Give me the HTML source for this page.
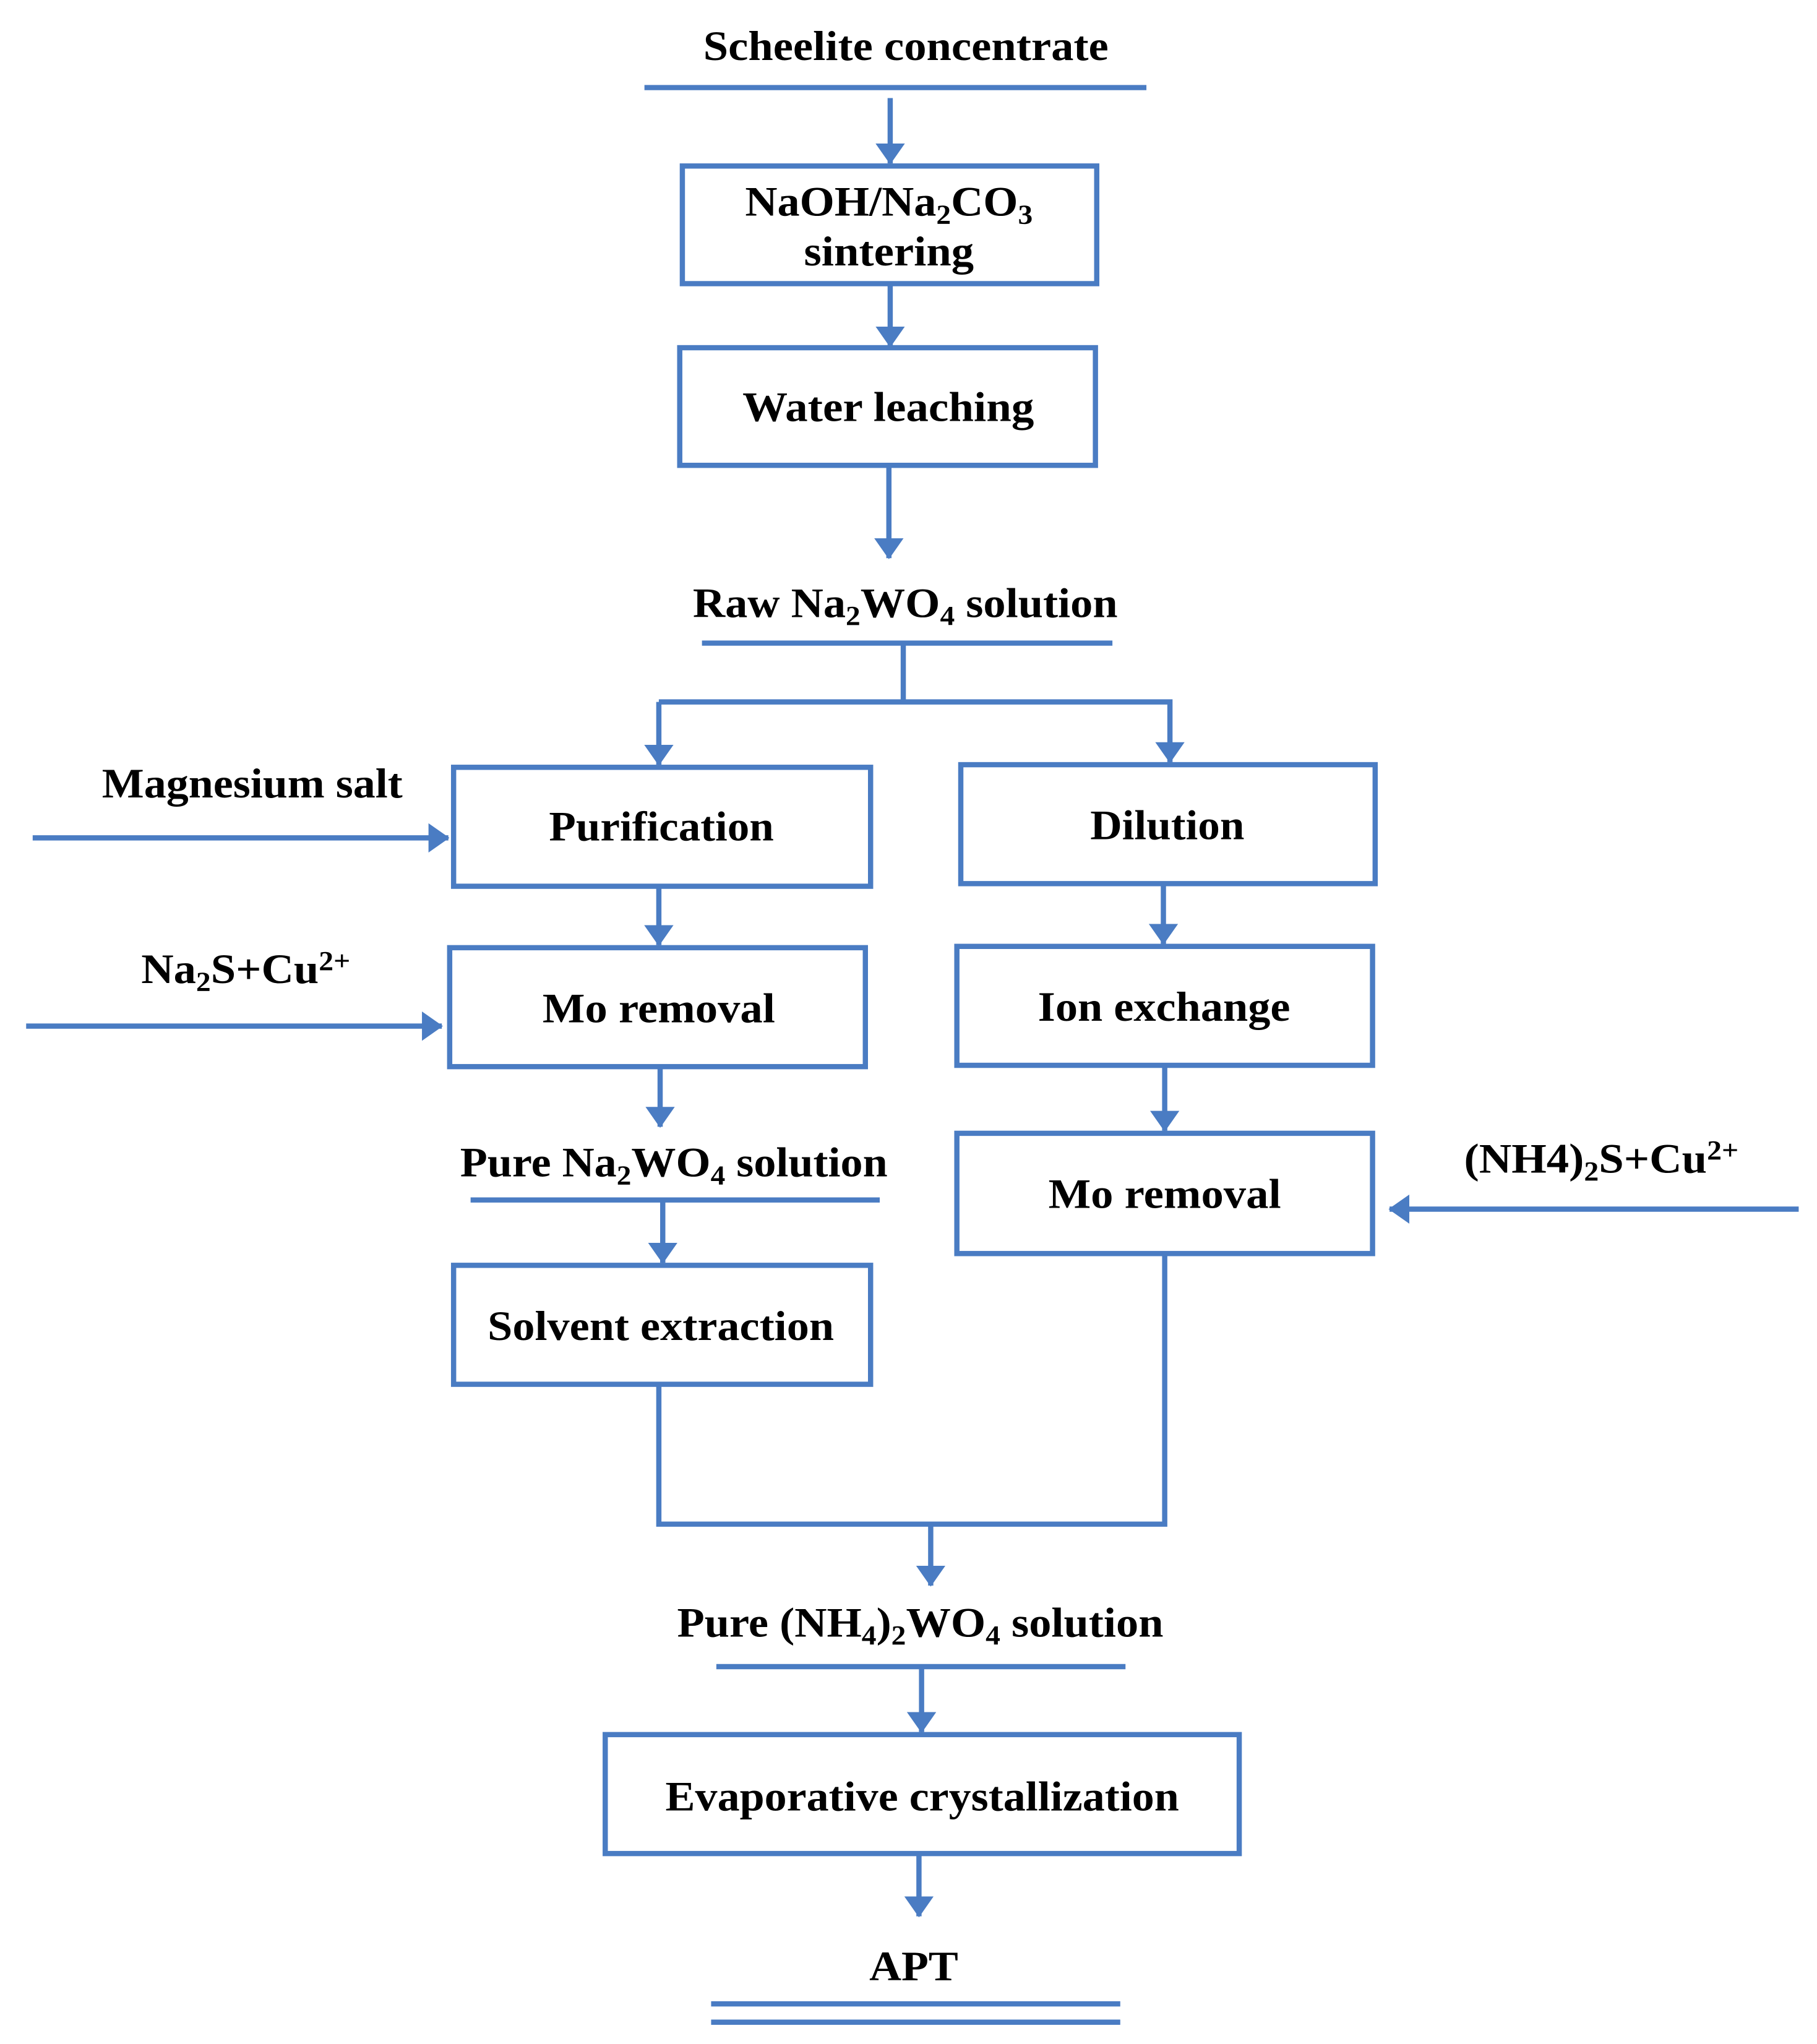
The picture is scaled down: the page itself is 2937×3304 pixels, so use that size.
<!DOCTYPE html>
<html><head><meta charset="utf-8"><style>html,body{margin:0;padding:0;background:#fff}svg{display:block}</style></head>
<body>
<svg width="2937" height="3304" viewBox="0 0 1390 1563.7" xmlns="http://www.w3.org/2000/svg">
<defs>
<marker id="a" viewBox="0 0 10 14" refX="9.5" refY="7" markerWidth="4" markerHeight="5.6" markerUnits="strokeWidth" orient="auto"><path d="M0,0L10,7L0,14z" fill="#4a7cc3"/></marker>
</defs>
<g fill="none" stroke="#4a7cc3" stroke-width="4">
<line x1="493" y1="67" x2="877" y2="67"/>
<line x1="681" y1="75" x2="681" y2="125" marker-end="url(#a)"/>
<rect x="522" y="127" width="317" height="90"/>
<line x1="681" y1="217" x2="681" y2="265" marker-end="url(#a)"/>
<rect x="520" y="266" width="318" height="90"/>
<line x1="680" y1="356" x2="680" y2="427" marker-end="url(#a)"/>
<line x1="537" y1="492" x2="851" y2="492"/>
<polyline points="691,492 691,537"/>
<polyline points="504,537 895,537 895,583" marker-end="url(#a)"/>
<line x1="504" y1="537" x2="504" y2="585" marker-end="url(#a)"/>
<rect x="347" y="587" width="319" height="91"/>
<rect x="735" y="585" width="317" height="91"/>
<line x1="25" y1="641" x2="343" y2="641" marker-end="url(#a)"/>
<line x1="504" y1="678" x2="504" y2="723" marker-end="url(#a)"/>
<rect x="344" y="725" width="318" height="91"/>
<line x1="20" y1="785" x2="338" y2="785" marker-end="url(#a)"/>
<line x1="505" y1="816" x2="505" y2="862" marker-end="url(#a)"/>
<line x1="360" y1="918" x2="673" y2="918"/>
<line x1="507" y1="918" x2="507" y2="966" marker-end="url(#a)"/>
<rect x="347" y="968" width="319" height="91"/>
<line x1="890" y1="676" x2="890" y2="722" marker-end="url(#a)"/>
<rect x="732" y="724" width="318" height="91"/>
<line x1="891" y1="815" x2="891" y2="865" marker-end="url(#a)"/>
<rect x="732" y="867" width="318" height="92"/>
<line x1="1376" y1="925" x2="1063" y2="925" marker-end="url(#a)"/>
<polyline points="504,1059 504,1166 891,1166 891,959"/>
<line x1="712" y1="1166" x2="712" y2="1213" marker-end="url(#a)"/>
<line x1="548" y1="1275" x2="861" y2="1275"/>
<line x1="705" y1="1275" x2="705" y2="1325" marker-end="url(#a)"/>
<rect x="463" y="1327" width="485" height="91"/>
<line x1="703" y1="1418" x2="703" y2="1466" marker-end="url(#a)"/>
<line x1="544" y1="1533" x2="857" y2="1533"/>
<line x1="544" y1="1547" x2="857" y2="1547"/>
</g>
<g font-family="'Liberation Serif', serif" font-weight="bold" font-size="32" fill="#000">
<text x="538" y="46" textLength="310" lengthAdjust="spacingAndGlyphs">Scheelite concentrate</text>
<text x="570" y="165" textLength="220" lengthAdjust="spacingAndGlyphs">NaOH/Na<tspan font-size="21" dy="6">2</tspan><tspan dy="-6">CO</tspan><tspan font-size="21" dy="6">3</tspan></text>
<text x="615" y="203" textLength="130" lengthAdjust="spacingAndGlyphs">sintering</text>
<text x="568" y="322" textLength="223" lengthAdjust="spacingAndGlyphs">Water leaching</text>
<text x="530" y="472" textLength="325" lengthAdjust="spacingAndGlyphs">Raw Na<tspan font-size="21" dy="6">2</tspan><tspan dy="-6">WO</tspan><tspan font-size="21" dy="6">4</tspan><tspan dy="-6"> solution</tspan></text>
<text x="78" y="610" textLength="230" lengthAdjust="spacingAndGlyphs">Magnesium salt</text>
<text x="420" y="643" textLength="172" lengthAdjust="spacingAndGlyphs">Purification</text>
<text x="834" y="642" textLength="118" lengthAdjust="spacingAndGlyphs">Dilution</text>
<text x="108" y="752" textLength="160" lengthAdjust="spacingAndGlyphs">Na<tspan font-size="21" dy="6">2</tspan><tspan dy="-6">S+Cu</tspan><tspan font-size="21" dy="-10">2+</tspan></text>
<text x="415" y="782" textLength="178" lengthAdjust="spacingAndGlyphs">Mo removal</text>
<text x="794" y="781" textLength="193" lengthAdjust="spacingAndGlyphs">Ion exchange</text>
<text x="352" y="900" textLength="327" lengthAdjust="spacingAndGlyphs">Pure Na<tspan font-size="21" dy="6">2</tspan><tspan dy="-6">WO</tspan><tspan font-size="21" dy="6">4</tspan><tspan dy="-6"> solution</tspan></text>
<text x="802" y="924" textLength="178" lengthAdjust="spacingAndGlyphs">Mo removal</text>
<text x="1120" y="897" textLength="210" lengthAdjust="spacingAndGlyphs">(NH4)<tspan font-size="21" dy="6">2</tspan><tspan dy="-6">S+Cu</tspan><tspan font-size="21" dy="-10">2+</tspan></text>
<text x="373" y="1025" textLength="265" lengthAdjust="spacingAndGlyphs">Solvent extraction</text>
<text x="518" y="1252" textLength="372" lengthAdjust="spacingAndGlyphs">Pure (NH<tspan font-size="21" dy="6">4</tspan><tspan dy="-6">)</tspan><tspan font-size="21" dy="6">2</tspan><tspan dy="-6">WO</tspan><tspan font-size="21" dy="6">4</tspan><tspan dy="-6"> solution</tspan></text>
<text x="509" y="1385" textLength="393" lengthAdjust="spacingAndGlyphs">Evaporative crystallization</text>
<text x="665" y="1515" textLength="68" lengthAdjust="spacingAndGlyphs">APT</text>
</g>
</svg>
</body></html>
